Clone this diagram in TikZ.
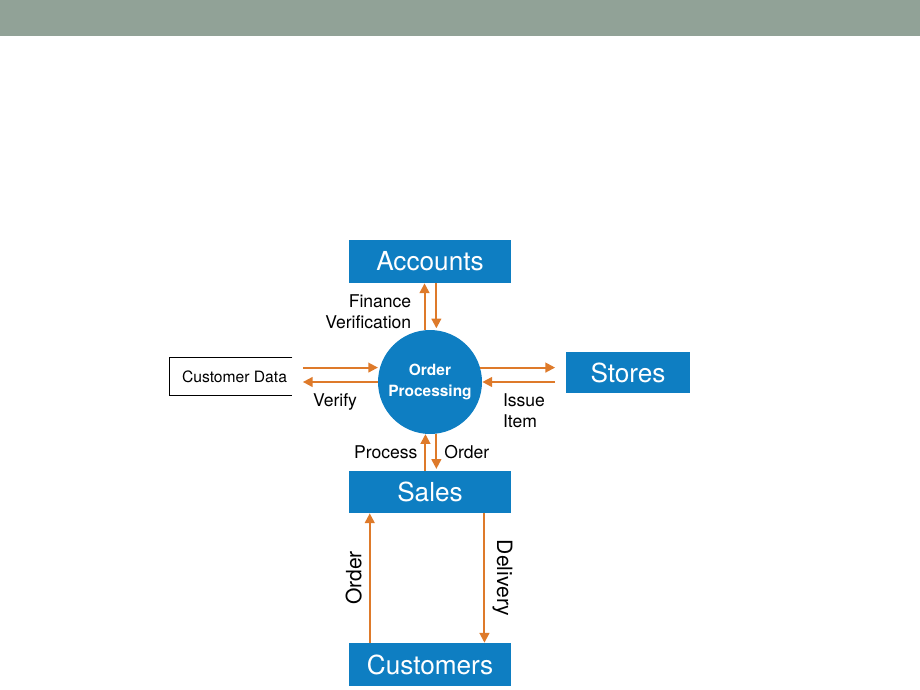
\documentclass[tikz,border=0pt]{standalone}
\usepackage{fontspec}
\setmainfont{TeX Gyre Heros}
\usetikzlibrary{arrows.meta}
\definecolor{boxblue}{RGB}{14,126,194}
\definecolor{flowor}{RGB}{222,122,42}
\definecolor{barcol}{RGB}{145,162,151}
\tikzset{
	unit/.style={fill=boxblue, text=white, minimum width=3.24cm, minimum height=0.86cm, inner sep=0pt, font=\fontsize{14.9}{16}\selectfont},
	flow/.style={draw=flowor, line width=1.1pt, -{Triangle[length=5.5pt,width=5.5pt]}},
	lbl/.style={font=\fontsize{10}{11.9}\selectfont, inner sep=2pt},
	sidelbl/.style={font=\fontsize{12}{14}\selectfont, inner sep=4pt}
}

\begin{document}
\begin{tikzpicture}[x=0.02cm, y=-0.02cm]
			\useasboundingbox (0,0) rectangle (920,690);
			\fill[barcol] (0,0) rectangle (920,36);

			\node[unit] (acc) at (430,261.5) {Accounts};
			\node[circle, fill=boxblue, text=white, minimum size=2.08cm, inner sep=0pt, align=center, font=\bfseries\fontsize{8.8}{11.9}\selectfont] (op) at (430,382) {Order\\Processing};
			\node[unit, minimum width=2.48cm, minimum height=0.82cm] (st) at (628,372.5) {Stores};
			\node[unit, minimum height=0.84cm] (sa) at (430,492) {Sales};
			\node[unit] (cu) at (430,664.5) {Customers};
			\node[minimum width=2.44cm, minimum height=0.74cm, inner sep=0pt, font=\fontsize{8.9}{10}\selectfont] (cd) at (231,376.5) {\hspace{4pt}Customer Data};
			\draw[line width=0.8pt] (cd.north east) -- (cd.north west) -- (cd.south west) -- (cd.south east);

			\draw[flow] (op.96) -- (op.96 |- acc.south) node[lbl, pos=0.4, left=5pt, align=right]{Finance\\Verification};
			\draw[flow, shorten >=1pt] (acc.south -| op.83) -- (op.83);

			\draw[flow, shorten <=6pt, shorten >=1pt] (cd.east |- op.164) -- (op.164);
			\draw[flow, shorten >=6pt] (op.180) -- (cd.east |- op.180) node[lbl, midway, below=4pt]{Verify};

			\draw[flow, shorten >=6pt] (op.16) -- (op.16 -| st.west);
			\draw[flow, shorten <=6pt] (st.west |- op.0) -- (op.0) node[lbl, midway, below=4pt, align=left]{Issue\\Item};

			\draw[flow] (sa.north -| op.265) -- (op.265) node[lbl, midway, left=2pt]{Process};
			\draw[flow, shorten >=1pt] (op.277) -- (op.277 |- sa.north) node[lbl, midway, right=2pt]{Order};

			\draw[flow] ([xshift=12pt]cu.north west) -- ([xshift=12pt]sa.south west) node[sidelbl, midway, rotate=90, anchor=south]{Order};
			\draw[flow] ([xshift=-15.3pt]sa.south east) -- ([xshift=-15.3pt]cu.north east) node[sidelbl, midway, rotate=-90, anchor=south]{Delivery};
		\end{tikzpicture}
\end{document}
